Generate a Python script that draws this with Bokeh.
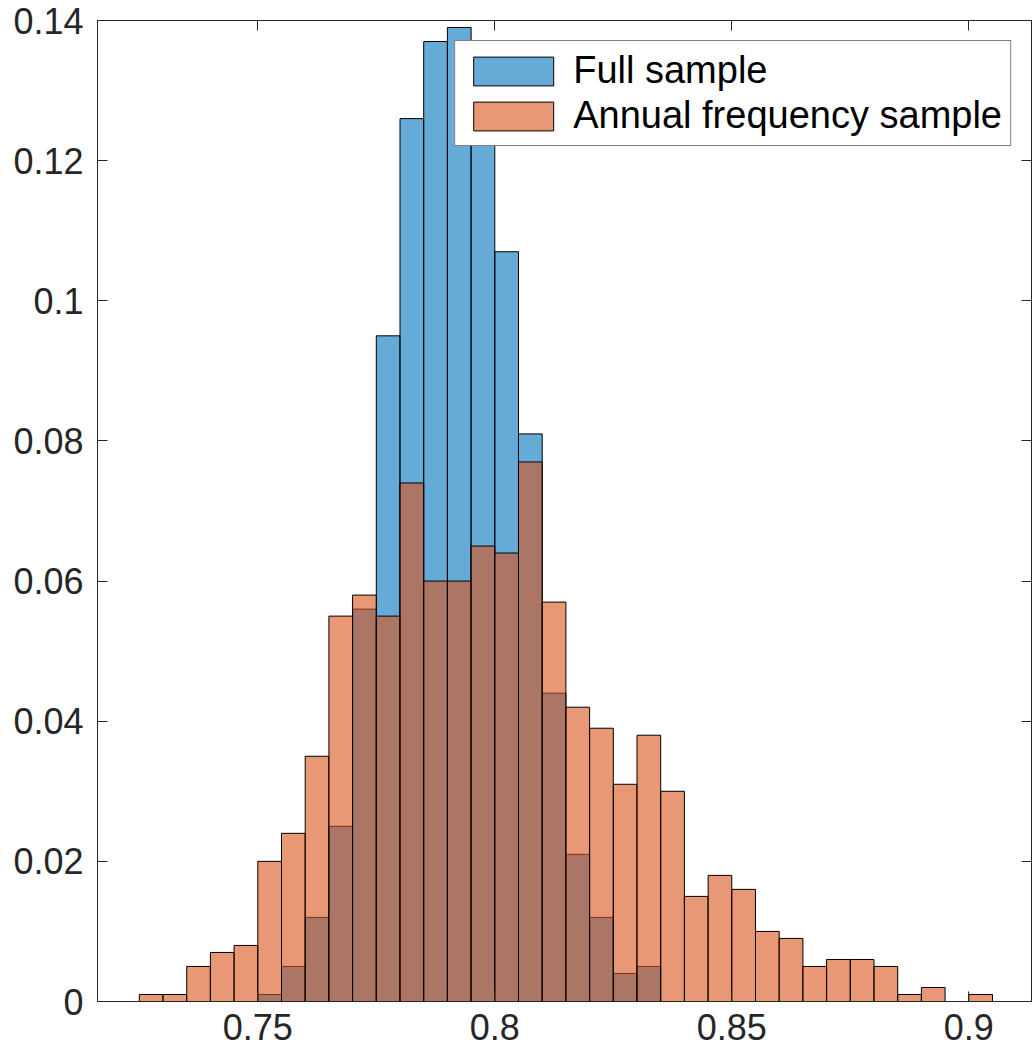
from bokeh.plotting import figure
from bokeh.models import (ColumnDataSource, Range1d, FixedTicker, CustomJSTickFormatter,
                          LinearAxis, Legend, LegendItem)
from bokeh.embed import file_html
from bokeh.resources import INLINE

# ---------------- data ----------------
bin_edges = [0.725, 0.730, 0.735, 0.740, 0.745, 0.750, 0.755, 0.760, 0.765, 0.770,
             0.775, 0.780, 0.785, 0.790, 0.795, 0.800, 0.805, 0.810, 0.815, 0.820,
             0.825, 0.830, 0.835, 0.840, 0.845, 0.850, 0.855, 0.860, 0.865, 0.870,
             0.875, 0.880, 0.885, 0.890, 0.895, 0.900, 0.905]

full_sample = [0.000, 0.000, 0.000, 0.000, 0.000, 0.001, 0.005, 0.012, 0.025, 0.056,
               0.095, 0.126, 0.137, 0.139, 0.130, 0.107, 0.081, 0.044, 0.021, 0.012,
               0.004, 0.005, 0.000, 0.000, 0.000, 0.000, 0.000, 0.000, 0.000, 0.000,
               0.000, 0.000, 0.000, 0.000, 0.000, 0.000]

annual_sample = [0.001, 0.001, 0.005, 0.007, 0.008, 0.020, 0.024, 0.035, 0.055, 0.058,
                 0.055, 0.074, 0.060, 0.060, 0.065, 0.064, 0.077, 0.057, 0.042, 0.039,
                 0.031, 0.038, 0.030, 0.015, 0.018, 0.016, 0.010, 0.009, 0.005, 0.006,
                 0.006, 0.005, 0.001, 0.002, 0.000, 0.001]

series_names = ["Full sample", "Annual frequency sample"]
x_ticks = [0.75, 0.8, 0.85, 0.9]
y_ticks = [0, 0.02, 0.04, 0.06, 0.08, 0.1, 0.12, 0.14]

# ---------------- style ----------------
FONT = "Liberation Sans"
AX = "#262626"
BLUE = "#0072BD"
ORANGE = "#D95319"

p = figure(frame_width=934, frame_height=981,
           min_border_left=97, min_border_right=2, min_border_top=20, min_border_bottom=56,
           x_range=Range1d(0.71618, 0.91323), y_range=Range1d(0, 0.14),
           output_backend="svg", toolbar_location=None, tools="",
           x_axis_location="below", y_axis_location="left")

p.background_fill_color = "white"
p.border_fill_color = "white"
p.outline_line_color = AX
p.outline_line_width = 1
p.xgrid.visible = False
p.ygrid.visible = False

src_full = ColumnDataSource(dict(left=bin_edges[:-1], right=bin_edges[1:],
                                 top=full_sample, bottom=[0] * len(full_sample)))
src_ann = ColumnDataSource(dict(left=bin_edges[:-1], right=bin_edges[1:],
                                top=annual_sample, bottom=[0] * len(annual_sample)))

r_full = p.quad(left="left", right="right", top="top", bottom="bottom", source=src_full,
                fill_color=BLUE, fill_alpha=0.6, line_color="black", line_width=1)
r_ann = p.quad(left="left", right="right", top="top", bottom="bottom", source=src_ann,
               fill_color=ORANGE, fill_alpha=0.6, line_color="black", line_width=1)

fmt = CustomJSTickFormatter(code="return String(Number(tick.toFixed(4)));")

def style_axis(ax, ticks, labels=True):
    ax.ticker = FixedTicker(ticks=ticks, minor_ticks=[])
    ax.formatter = fmt
    ax.axis_line_color = AX
    ax.axis_line_width = 1
    ax.major_tick_line_color = AX
    ax.major_tick_line_width = 1
    ax.major_tick_in = 10
    ax.major_tick_out = 0
    ax.minor_tick_in = 0
    ax.minor_tick_out = 0
    if labels:
        ax.major_label_text_font = FONT
        ax.major_label_text_font_size = "36px"
        ax.major_label_text_color = AX
        ax.major_label_standoff = 12
    else:
        ax.major_label_text_font_size = "0px"
        ax.major_label_text_alpha = 0
        ax.major_label_standoff = 0

style_axis(p.xaxis[0], x_ticks)
style_axis(p.yaxis[0], y_ticks)
p.yaxis[0].major_label_standoff = 14

top_ax = LinearAxis()
right_ax = LinearAxis()
style_axis(top_ax, x_ticks, labels=False)
style_axis(right_ax, y_ticks, labels=False)
p.add_layout(top_ax, "above")
p.add_layout(right_ax, "right")

legend = Legend(items=[LegendItem(label=series_names[0], renderers=[r_full]),
                       LegendItem(label=series_names[1], renderers=[r_ann])],
                location="top_right", margin=20, padding=8, spacing=2,
                glyph_width=100, glyph_height=36, label_standoff=10,
                label_text_font=FONT, label_text_font_size="38px",
                label_text_color="black",
                border_line_color="black", border_line_width=1,
                background_fill_color="white", background_fill_alpha=1)
p.add_layout(legend, "center")

open("out.html", "w").write(file_html(p, INLINE))
